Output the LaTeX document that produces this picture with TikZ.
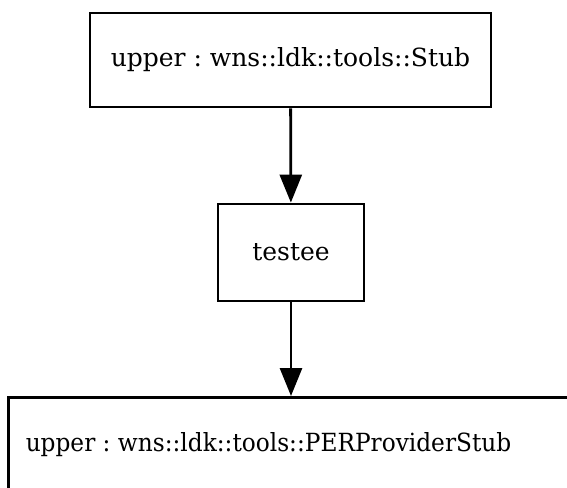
\documentclass[tikz,border=0pt]{standalone}
\usepackage{fontspec}
\setmainfont{DejaVu Serif}
\frenchspacing
\usetikzlibrary{arrows.meta, positioning}

\begin{document}
\begin{tikzpicture}[x=1pt, y=1pt, >={Triangle[length=28pt, width=22pt]},
    box/.style={draw, line width=2.8pt, inner sep=0pt, font=\fontsize{25}{28}\selectfont}]

    % Khung ảnh
    \useasboundingbox (0,0) rectangle (567,-487);
    \clip (0,0) rectangle (567,-487);

    % Các khối
    \node[box, minimum width=401pt, minimum height=94pt] (stub) at (290.5,-60) {upper : wns::ldk::tools::Stub};
    \node[box, minimum width=146pt, minimum height=97pt] (testee) at (291,-252.5) {testee};
    \node[box, minimum width=566pt, minimum height=120pt, anchor=north west] (perstub) at (7,-396) {};
    \node[font=\fontsize{25}{28}\selectfont] (perlabel) at (268.5,-445) {\scalebox{0.93}[1]{upper : wns::ldk::tools::PERProviderStub}};

    % Các mũi tên
    \draw[->, line width=2.8pt] (stub) -- (testee);
    \draw[->, line width=2.8pt] (testee) -- (testee.south |- perstub.north);

\end{tikzpicture}
\end{document}
